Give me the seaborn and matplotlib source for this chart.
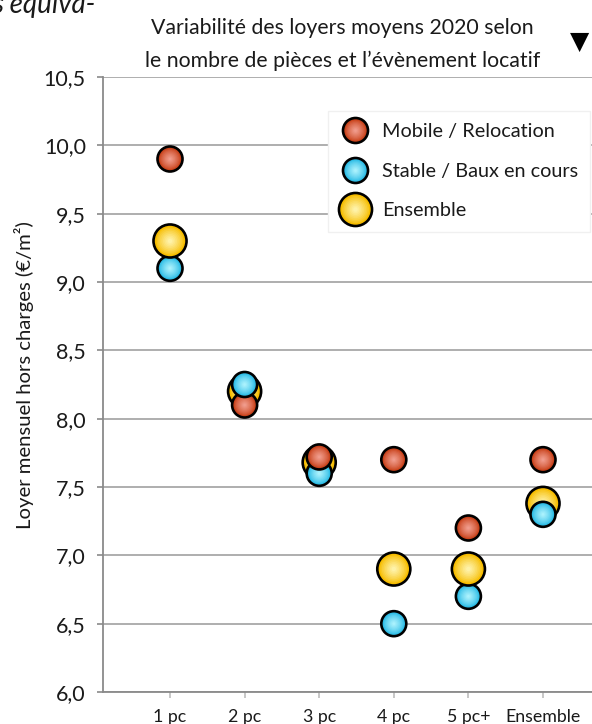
import numpy as np
import pandas as pd
import matplotlib
matplotlib.use("Agg")
import matplotlib.pyplot as plt
from matplotlib.lines import Line2D
from matplotlib.legend_handler import HandlerTuple
from matplotlib.colors import to_rgb
from matplotlib.ticker import FuncFormatter, MultipleLocator
import seaborn as sns

# --- data -------------------------------------------------------------------
pieces = ["1 pc", "2 pc", "3 pc", "4 pc", "5 pc+", "Ensemble"]
series = ["Mobile / Relocation", "Stable / Baux en cours", "Ensemble"]
loyer_mobile = [9.9, 8.1, 7.72, 7.7, 7.2, 7.7]
loyer_stable = [9.1, 8.25, 7.6, 6.5, 6.7, 7.3]
loyer_ensemble = [9.3, 8.2, 7.68, 6.9, 6.9, 7.38]

title = "Variabilité des loyers moyens 2020 selon\nle nombre de pièces et l’évènement locatif"
ylabel = "Loyer mensuel hors charges (€/m²)"

# --- style ------------------------------------------------------------------
sns.set_theme(style="white")
plt.rcParams["font.family"] = ["Lato", "DejaVu Sans"]

base_col = {series[0]: "#c9431c", series[1]: "#2fbde6", series[2]: "#f7bd00"}
light_col = {series[0]: "#f4a496", series[1]: "#b6f6ff", series[2]: "#fff7b8"}
diam = {series[0]: 18.0, series[1]: 18.0, series[2]: 23.8}

# stacking order per category (bottom -> top)
default_stack = [series[2], series[1], series[0]]
stack = {p: default_stack for p in pieces}
stack["1 pc"] = [series[1], series[2], series[0]]
stack["5 pc+"] = [series[1], series[2], series[0]]
stack["2 pc"] = [series[2], series[0], series[1]]

rows = []
for vals, s in zip([loyer_mobile, loyer_stable, loyer_ensemble], series):
    for i, (p, v) in enumerate(zip(pieces, vals)):
        rows.append({"pieces": p, "pos": i, "serie": s, "loyer": v,
                     "rang": stack[p].index(s)})
df = pd.DataFrame(rows)

W, H = 592, 724
fig = plt.figure(figsize=(W / 100, H / 100), dpi=100)
ax = fig.add_axes([102.5 / W, 32 / H, (W - 102.5) / W, 615 / H])

n_rings = 9
def blend(a, b, t):
    a, b = np.array(to_rgb(a)), np.array(to_rgb(b))
    return tuple(a + (b - a) * t)

for r in range(3):
    sub = df[df["rang"] == r]
    z = 3 + r * 20
    sns.scatterplot(data=sub, x="pos", y="loyer", hue="serie", size="serie",
                    hue_order=series, size_order=series,
                    palette=base_col, sizes={k: v ** 2 for k, v in diam.items()},
                    edgecolor="black", linewidth=1.9, legend=False, ax=ax, zorder=z)
    for k in range(1, n_rings):
        t = k / n_rings
        f = 1 - 0.88 * t
        pal = {s: blend(base_col[s], light_col[s], t ** 0.8) for s in series}
        sns.scatterplot(data=sub, x="pos", y="loyer", hue="serie", size="serie",
                        hue_order=series, size_order=series,
                        palette=pal, sizes={s: (diam[s] * f - 1.9) ** 2 for s in series},
                        edgecolor="none", linewidth=0, legend=False, ax=ax, zorder=z + k)

# --- axes -------------------------------------------------------------------
ax.set_ylim(6.0, 10.5)
ax.set_xlim(-0.905, 5.657)
ax.yaxis.set_major_locator(MultipleLocator(0.5))
ax.yaxis.set_major_formatter(FuncFormatter(lambda v, _: f"{v:.1f}".replace(".", ",")))
ax.set_xticks(range(len(pieces)))
ax.set_xticklabels(pieces)
ax.set_xlabel("")
ax.set_ylabel(ylabel, fontsize=14.6, color="#1a1a1a")
ax.yaxis.set_label_coords(-0.14, 0.515)

ax.grid(axis="y", color="#a8a8a8", linewidth=1.3, zorder=0)
ax.grid(axis="x", visible=False)
ax.set_axisbelow(True)
for side in ["top", "right"]:
    ax.spines[side].set_visible(False)
for side in ["left", "bottom"]:
    ax.spines[side].set_color("#8a8a8a")
    ax.spines[side].set_linewidth(1.3)

ax.tick_params(axis="y", direction="out", length=4, width=1.2, color="#8a8a8a",
               pad=8, labelsize=15.5, labelcolor="#1a1a1a", left=True)
ax.tick_params(axis="x", direction="out", length=4, width=1.2, color="#bdbdbd",
               pad=8.5, labelsize=12.8, labelcolor="#1a1a1a", bottom=True)

ax.set_title(title, fontsize=15.3, color="#1a1a1a", linespacing=1.78, pad=7, x=0.49)

# --- legend -----------------------------------------------------------------
handles = []
for s in series:
    parts = [Line2D([], [], linestyle="none", marker="o", markersize=diam[s],
                    markerfacecolor=base_col[s], markeredgecolor="black",
                    markeredgewidth=1.9)]
    for k in range(1, n_rings):
        t = k / n_rings
        f = 1 - 0.88 * t
        parts.append(Line2D([], [], linestyle="none", marker="o",
                            markersize=diam[s] * f - 1.9,
                            markerfacecolor=blend(base_col[s], light_col[s], t ** 0.8),
                            markeredgewidth=0))
    handles.append(tuple(parts))

leg = ax.legend(handles, series, handler_map={tuple: HandlerTuple(ndivide=1, pad=0)},
                loc="upper left", bbox_to_anchor=(328 / W, 1 - 111 / H),
                bbox_transform=fig.transFigure, fontsize=14.3, frameon=True,
                fancybox=False, framealpha=1, facecolor="white",
                edgecolor="#f0f0f0", handlelength=1.45, handletextpad=0.65,
                borderpad=0.62, labelspacing=1.13, borderaxespad=0)
leg.set_zorder(100)
for txt in leg.get_texts():
    txt.set_color("#1a1a1a")

# --- surrounding marks ------------------------------------------------------
fig.text(580 / W, 1 - 42 / H, "▼", ha="center", va="center", fontsize=18,
         family="DejaVu Sans", color="black")
fig.text(-8 / W, 1 - 13 / H, "s equiva-", ha="left", va="baseline", fontsize=20,
         style="italic", color="#1a1a1a")

fig.savefig("out.png", dpi=100)
